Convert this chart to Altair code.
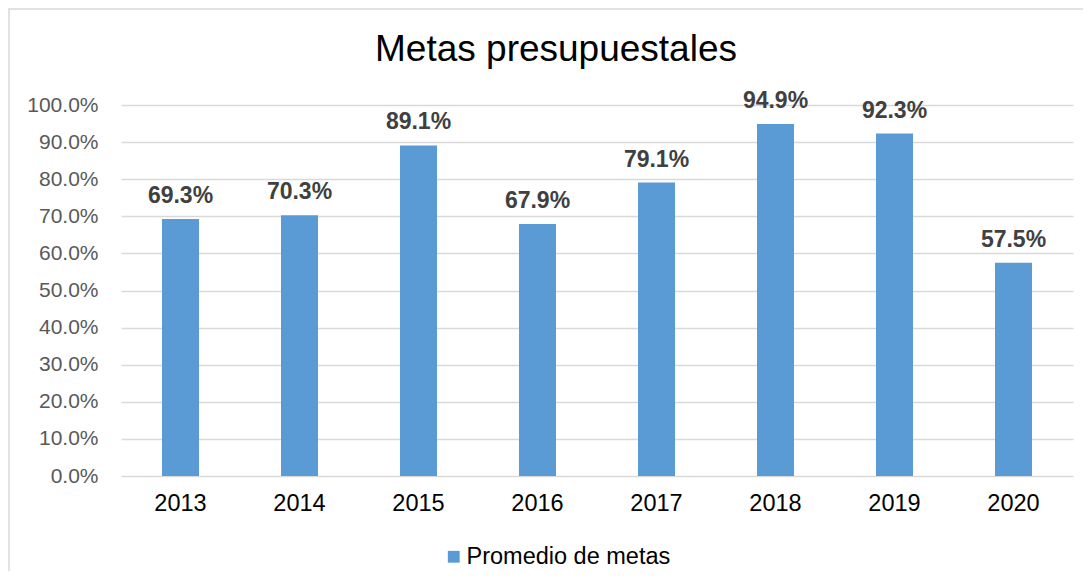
import altair as alt
import pandas as pd

years = ["2013", "2014", "2015", "2016", "2017", "2018", "2019", "2020"]
values = [0.693, 0.703, 0.891, 0.679, 0.791, 0.949, 0.923, 0.575]
series_name = "Promedio de metas"
y_ticks = [0.0, 0.1, 0.2, 0.3, 0.4, 0.5, 0.6, 0.7, 0.8, 0.9, 1.0]

df = pd.DataFrame({"year": years, "value": values, "serie": [series_name] * len(years)})

W, H = 952, 371
FONT = "Liberation Sans"

x = alt.X(
    "year:N", sort=years, title=None,
    scale=alt.Scale(paddingInner=0.689, paddingOuter=0.3445),
    axis=alt.Axis(labelAngle=0, labelFontSize=23.5, labelColor="#000000", labelPadding=15,
                  ticks=False, tickSize=0, domain=False, grid=False, labelFont=FONT),
)
y = alt.Y(
    "value:Q", title=None,
    scale=alt.Scale(domain=[0, 1], nice=False),
    axis=alt.Axis(values=y_ticks, format=".1%", labelFontSize=21, labelColor="#595959",
                  labelPadding=23, ticks=False, tickSize=0, domain=False, grid=True,
                  gridColor="#d9d9d9", gridWidth=1.5, labelFont=FONT),
)

bars = alt.Chart(df).mark_bar(color="#5B9BD5").encode(
    x=x, y=y,
    color=alt.Color("serie:N", scale=alt.Scale(range=["#5B9BD5"]),
                    legend=alt.Legend(title=None, orient="none", legendX=321, legendY=440,
                                      symbolType="square", symbolSize=140, labelFontSize=23.5,
                                      labelFont=FONT, labelColor="#000000", labelOffset=1,
                                      labelLimit=400, padding=0, symbolStrokeWidth=0)),
)

labels = alt.Chart(df).mark_text(dy=-16, baseline="alphabetic", fontSize=23, fontWeight="bold",
                                 color="#404040", font=FONT).encode(
    x=x, y=y, text=alt.Text("value:Q", format=".1%"),
)

border = alt.Chart(pd.DataFrame({"b": [0]})).mark_rect(
    fillOpacity=0, stroke="#d9d9d9", strokeWidth=1.5, clip=False
).encode(x=alt.value(-112), x2=alt.value(W + 60), y=alt.value(-96), y2=alt.value(H + 200))

chart = alt.layer(border, bars, labels).properties(
    width=W, height=H,
    padding={"left": 113, "top": 97, "right": 10, "bottom": 95},
    autosize=alt.AutoSizeParams(type="none"),
    title=alt.Title("Metas presupuestales", fontSize=37, font=FONT, fontWeight="normal",
                    color="#000000", dx=-41, baseline="alphabetic", offset=-90),
).configure_view(strokeWidth=0)

chart.save("out.html", embed_options={"renderer": "svg", "actions": False})
